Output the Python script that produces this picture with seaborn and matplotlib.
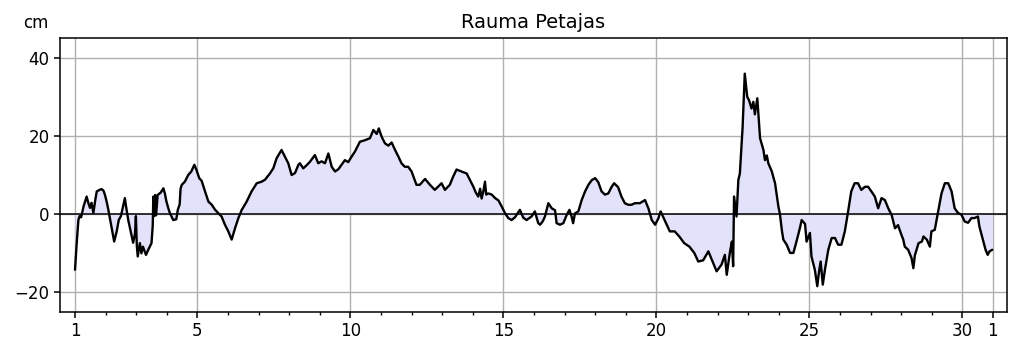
import matplotlib
matplotlib.use("Agg")
import matplotlib.pyplot as plt
import seaborn as sns
import pandas as pd
from matplotlib.ticker import FixedLocator

# Vedenkorkeus (cm), aika kuukauden päivinä (1.0 = 1. päivä klo 00)
days = [
    1.00, 1.05, 1.11, 1.15, 1.20, 1.28, 1.38, 1.43, 1.49, 1.54, 1.60, 1.66, 1.71, 1.80, 1.87, 1.93, 1.98,
    2.04, 2.09, 2.13, 2.20, 2.28, 2.36, 2.43, 2.50, 2.57, 2.63, 2.67, 2.74, 2.81, 2.90, 2.96, 2.99,
    3.02, 3.05, 3.12, 3.17, 3.22, 3.32, 3.40, 3.50, 3.54, 3.56, 3.59, 3.62, 3.65, 3.70, 3.80, 3.89, 3.94, 3.98,
    4.05, 4.10, 4.21, 4.31, 4.36, 4.42, 4.45, 4.49, 4.59, 4.70, 4.80, 4.90, 4.97,
    5.06, 5.14, 5.25, 5.36, 5.47, 5.58, 5.68, 5.79, 5.90,
    6.01, 6.12, 6.23, 6.34, 6.45, 6.61, 6.77, 6.94,
    7.10, 7.21, 7.37, 7.48, 7.59, 7.75, 7.86, 7.97,
    8.08, 8.19, 8.30, 8.35, 8.46, 8.57, 8.68, 8.84, 8.95,
    9.06, 9.17, 9.28, 9.39, 9.50, 9.61, 9.71, 9.82, 9.93,
    10.04, 10.15, 10.31, 10.48, 10.64, 10.75, 10.86, 10.93,
    11.02, 11.13, 11.24, 11.35, 11.46, 11.57, 11.67, 11.78, 11.89,
    12.00, 12.16, 12.27, 12.44, 12.60, 12.76, 12.98,
    13.09, 13.25, 13.36, 13.47, 13.63, 13.80, 13.91,
    14.02, 14.10, 14.18, 14.24, 14.29, 14.35, 14.40, 14.44, 14.51, 14.62, 14.73, 14.84, 14.95,
    15.05, 15.16, 15.27, 15.38, 15.54, 15.65, 15.76, 15.92,
    16.03, 16.14, 16.20, 16.29, 16.36, 16.47, 16.58, 16.69, 16.74, 16.85, 16.96,
    17.07, 17.16, 17.23, 17.28, 17.34, 17.45, 17.56, 17.67, 17.78, 17.89,
    18.00, 18.10, 18.21, 18.32, 18.43, 18.54, 18.62, 18.75, 18.86, 18.97,
    19.08, 19.19, 19.30, 19.46, 19.63, 19.74, 19.85, 19.96,
    20.07, 20.10, 20.14, 20.27, 20.44, 20.60, 20.75, 20.91,
    21.08, 21.24, 21.37, 21.53, 21.70, 21.81, 21.97,
    22.13, 22.24, 22.30, 22.41, 22.47, 22.51, 22.54, 22.62, 22.68, 22.73, 22.82, 22.89, 22.97,
    23.03, 23.11, 23.17, 23.22, 23.30, 23.39, 23.50, 23.55, 23.61, 23.66, 23.77, 23.88, 23.99,
    24.04, 24.10, 24.15, 24.26, 24.37, 24.48, 24.58, 24.69, 24.75, 24.86, 24.91,
    25.02, 25.07, 25.18, 25.26, 25.32, 25.37, 25.44, 25.51, 25.62, 25.73, 25.84, 25.94,
    26.05, 26.16, 26.26, 26.37, 26.48, 26.59, 26.70, 26.82, 26.92,
    27.03, 27.14, 27.25, 27.36, 27.47, 27.58, 27.69, 27.80, 27.90,
    28.01, 28.07, 28.12, 28.23, 28.34, 28.40, 28.45, 28.57, 28.68, 28.73, 28.84, 28.94, 28.99,
    29.10, 29.21, 29.32, 29.43, 29.54, 29.65, 29.75, 29.86, 29.97,
    30.08, 30.19, 30.30, 30.40, 30.51, 30.56, 30.67, 30.76, 30.83, 30.89, 30.98,
]
levels = [
    -14.2, -8.0, -1.5, -0.5, -0.8, 2.0, 4.5, 3.0, 1.6, 2.9, 0.3, 3.5, 5.8, 6.2, 6.4, 6.0, 4.9,
    3.0, 1.1, -0.6, -3.5, -7.0, -4.5, -1.5, -0.5, 2.0, 4.1, 1.9, -1.5, -4.0, -7.3, -5.0, -0.5,
    -8.0, -10.8, -7.4, -10.0, -8.3, -10.4, -9.0, -7.4, -3.0, 4.5, -0.5, 4.9, -0.3, 4.9, 5.5, 6.6, 5.2, 3.5,
    1.5, 0.3, -1.5, -1.3, 1.1, 2.5, 6.5, 7.5, 8.3, 10.0, 10.9, 12.6, 11.3,
    9.2, 8.5, 5.8, 3.2, 2.4, 1.1, 0.3, -0.6, -2.7,
    -4.4, -6.5, -3.6, -1.0, 1.1, 3.2, 5.8, 7.9,
    8.3, 8.8, 10.4, 11.7, 14.3, 16.4, 14.7, 13.0,
    10.0, 10.5, 12.6, 13.0, 11.7, 12.5, 13.4, 15.1, 13.0,
    13.5, 13.0, 15.5, 12.1, 10.9, 11.5, 12.6, 13.8, 13.3,
    14.7, 16.0, 18.5, 18.9, 19.4, 21.5, 20.5, 21.9,
    19.8, 18.1, 17.5, 18.3, 16.4, 14.7, 13.0, 12.1, 12.1,
    10.9, 7.5, 7.5, 9.0, 7.5, 6.2, 7.9,
    6.2, 7.5, 9.6, 11.4, 10.9, 10.4, 8.7,
    7.0, 5.5, 4.5, 6.5, 4.0, 6.0, 8.3, 5.0, 5.3, 5.0, 4.1, 3.5, 1.9,
    0.3, -1.0, -1.5, -0.8, 1.1, -0.9, -1.5, -0.6,
    0.7, -2.3, -2.7, -1.8, -0.6, 2.8, 1.5, 1.0, -2.3, -2.7, -2.3,
    -0.2, 1.1, -0.6, -2.3, 0.2, 0.7, 3.6, 5.8, 7.5, 8.7,
    9.2, 8.2, 5.8, 5.0, 5.3, 7.0, 7.9, 6.9, 4.5, 2.8,
    2.4, 2.4, 2.8, 2.8, 3.6, 1.5, -1.5, -2.7,
    -1.0, -0.2, 0.7, -1.5, -4.4, -4.4, -5.7, -7.4,
    -8.3, -9.9, -12.1, -11.8, -9.5, -11.6, -14.6,
    -12.9, -10.4, -15.5, -9.5, -7.0, -13.3, 4.5, -0.6, 8.7, 10.4, 22.3, 35.9, 30.0,
    29.1, 27.0, 28.7, 25.5, 29.6, 19.4, 16.4, 13.8, 15.0, 13.0, 11.0, 7.9, 1.9,
    0.0, -4.0, -6.5, -7.8, -9.9, -9.9, -7.0, -3.6, -1.5, -2.5, -7.0,
    -4.8, -10.8, -14.2, -18.4, -14.5, -12.1, -18.0, -14.2, -9.1, -6.1, -6.1, -7.8,
    -7.8, -4.4, 0.3, 5.8, 7.9, 7.9, 6.2, 7.0, 7.0,
    5.8, 4.5, 1.5, 4.1, 3.6, 1.5, -0.2, -3.6, -2.8,
    -5.3, -6.5, -8.3, -9.1, -11.2, -13.8, -10.5, -7.4, -7.0, -5.7, -6.5, -8.3, -4.4,
    -4.0, 0.7, 5.3, 7.9, 7.9, 5.8, 1.5, 0.3, -0.1,
    -1.9, -2.2, -1.0, -1.0, -0.6, -3.2, -6.5, -9.1, -10.4, -9.5, -9.1,
]

tick_pos = [1, 5, 10, 15, 20, 25, 30, 31]
tick_labels = ["1", "5", "10", "15", "20", "25", "30", "1"]

df = pd.DataFrame({"day": days, "level": levels})

sns.set_style("ticks")
plt.rcParams["font.family"] = ["DejaVu Sans"]

fig = plt.figure(figsize=(10.19, 3.52), dpi=100)
ax = fig.add_axes([0.0589, 0.1136, 0.9293, 0.7784])

ax.fill_between(df["day"], df["level"], 0, color="#e2e2fb", linewidth=0)
ax.axhline(0, color="black", linewidth=1.1)
sns.lineplot(data=df, x="day", y="level", ax=ax, color="black", linewidth=1.7, sort=False)

ax.set_xlim(0.51, 31.46)
ax.set_ylim(-25, 45)
ax.set_yticks([-20, 0, 20, 40])
ax.set_xticks(tick_pos)
ax.set_xticklabels(tick_labels)
ax.xaxis.set_minor_locator(FixedLocator(list(range(1, 32))))
ax.grid(True, which="major", color="#b0b0b0", linewidth=1)
ax.tick_params(axis="both", which="major", labelsize=12, length=4, width=1.1,
               color="black", labelcolor="black")
ax.tick_params(axis="x", which="minor", length=2.5, width=1, color="black")
for s in ax.spines.values():
    s.set_color("black")
    s.set_linewidth(1.1)

ax.set_xlabel("")
ax.set_ylabel("")
ax.set_title("Rauma Petajas", fontsize=14, pad=7, color="black")
ax.text(-0.026, 1.022, "cm", transform=ax.transAxes, ha="center", va="bottom",
        fontsize=12, color="black")

fig.savefig("out.png", dpi=100)
